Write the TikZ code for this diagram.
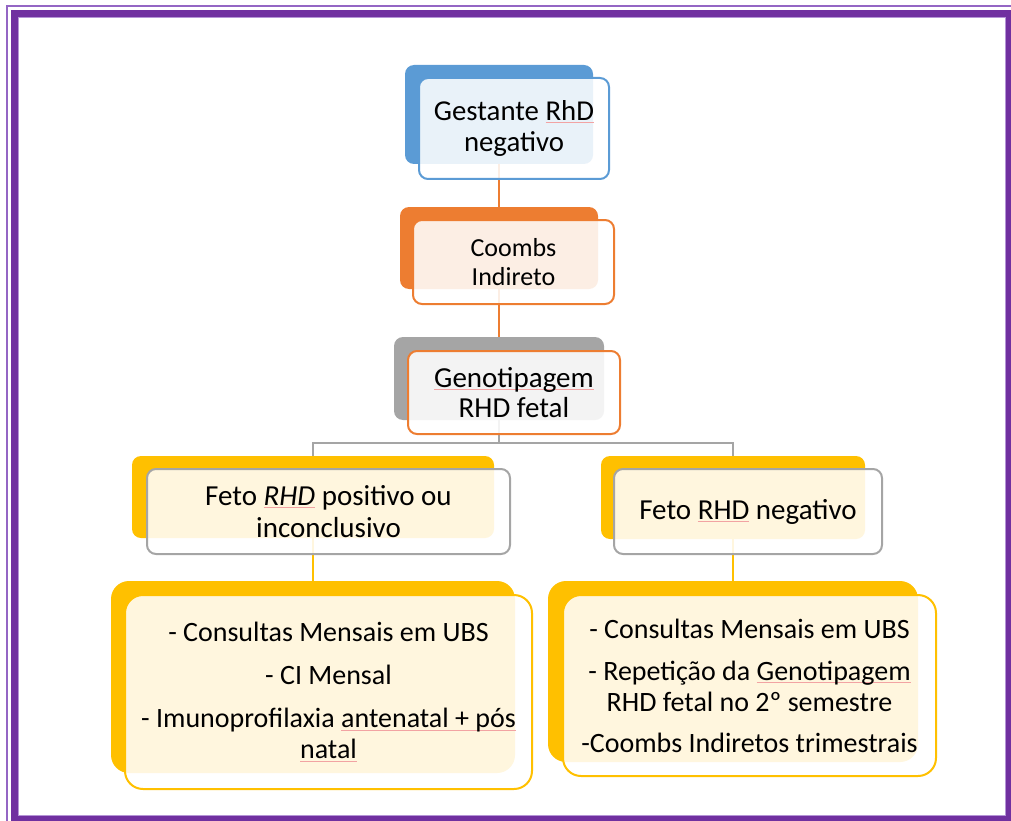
\documentclass[tikz,border=0pt]{standalone}
\usepackage{fontspec}
\setmainfont{Carlito}
\usetikzlibrary{backgrounds}

\definecolor{rhblue}{HTML}{5B9BD5}
\definecolor{rhorange}{HTML}{ED7D31}
\definecolor{rhgray}{HTML}{A5A5A5}
\definecolor{rhyellow}{HTML}{FFC000}
\definecolor{framedark}{HTML}{7030A0}
\definecolor{framelight}{HTML}{9466C4}
\definecolor{squig}{HTML}{F2A3A3}

% spell-check style underline: a thin pink rule under the word
\newcommand\spellmark[1]{\leavevmode\setbox0\hbox{#1}%
  \rlap{\textcolor{squig}{\rule[-2.5pt]{\wd0}{0.8pt}}}\box0\relax}

\tikzset{
  backbox/.style={draw=none, inner sep=0pt, outer sep=0pt, rounded corners=#1},
  frontbox/.style={draw=#1, line width=2pt, fill=white, fill opacity=0.87,
    text opacity=1, text=black, inner sep=0pt, outer sep=0pt, align=center},
  link/.style={draw=#1, line width=2pt},
  framethick/.style={draw=framedark, line width=7pt},
  framethin/.style={draw=framelight, line width=1.6pt},
}

\begin{document}
\begin{tikzpicture}[x=1pt, y=-1pt]
\useasboundingbox (0,0) rectangle (1011,821);
\clip (0,0) rectangle (1011,821);

% page frame
\draw[framethin] (7,6) rectangle (1040,850);
\draw[framethick] (14.5,13.5) rectangle (1009.5,819.5);
\draw[draw=framelight!70!white, line width=0.8pt] (18.4,17.4) rectangle (1005.6,815.6);

% coloured backing cards
\node[backbox=9pt, fill=rhblue, minimum width=188pt, minimum height=99pt] (b1) at (499,114.5) {};
\node[backbox=9pt, fill=rhorange, minimum width=198pt, minimum height=82pt] (b2) at (499,248) {};
\node[backbox=9pt, fill=rhgray, minimum width=210pt, minimum height=83pt] (b3) at (499,378.5) {};
\node[backbox=9pt, fill=rhyellow, minimum width=362pt, minimum height=82pt] (b4) at (313,497) {};
\node[backbox=9pt, fill=rhyellow, minimum width=264pt, minimum height=83pt] (b5) at (733,497.5) {};
\node[backbox=18pt, fill=rhyellow, minimum width=404pt, minimum height=192pt] (b6) at (313,677) {};
\node[backbox=18pt, fill=rhyellow, minimum width=370pt, minimum height=181pt] (b7) at (733,671.5) {};

% text cards
\node[frontbox=rhblue, rounded corners=9pt, minimum width=190pt, minimum height=101pt,
  font=\fontsize{28.8}{31}\selectfont] (f1) at (514,128.5)
  {Gestante \spellmark{RhD}\\negativo};
\node[frontbox=rhorange, rounded corners=9pt, minimum width=201pt, minimum height=84pt,
  font=\fontsize{26}{29}\selectfont] (f2) at (513.5,262)
  {Coombs\\Indireto};
\node[frontbox=rhorange, rounded corners=9pt, minimum width=212pt, minimum height=83pt,
  font=\fontsize{29}{30}\selectfont] (f3) at (514,392.5)
  {\spellmark{Genotipagem}\\RHD fetal};
\node[frontbox=rhgray, rounded corners=9pt, minimum width=363pt, minimum height=85pt,
  font=\fontsize{29}{32}\selectfont] (f4) at (328.5,511.5)
  {Feto \spellmark{\textit{RHD}} positivo ou\\inconclusivo};
\node[frontbox=rhgray, rounded corners=9pt, minimum width=268pt, minimum height=85pt,
  font=\fontsize{29}{32}\selectfont] (f5) at (748,511.5)
  {Feto \spellmark{RHD} negativo};
\node[frontbox=rhyellow, rounded corners=18pt, minimum width=407pt, minimum height=194pt,
  font=\fontsize{28}{31}\selectfont] (f6) at (328.5,692)
  {- Consultas Mensais em UBS\\[12pt]
   - CI Mensal\\[12pt]
   - Imunoprofilaxia \spellmark{antenatal + pós}\\
   \spellmark{natal}};
\node[frontbox=rhyellow, rounded corners=18pt, minimum width=373pt, minimum height=181pt,
  font=\fontsize{28}{31}\selectfont] (f7) at (749.5,685.5)
  {- Consultas Mensais em UBS\\[11pt]
   - Repetição da \spellmark{Genotipagem}\\
   RHD fetal no 2º semestre\\[10pt]
   -Coombs Indiretos trimestrais};

% connectors, behind the cards
\begin{scope}[on background layer]
  \coordinate (j3) at (499,443);
  \draw[link=rhorange] (b1.south) -- (b2.north);
  \draw[link=rhorange] (b2.south) -- (b3.north);
  \draw[link=rhgray] (b3.south) -- (j3) -| (b4.north);
  \draw[link=rhgray] (j3) -| (b5.north);
  \draw[link=rhyellow] (b4.south) -- (b6.north);
  \draw[link=rhyellow] (b5.south) -- (b7.north);
\end{scope}
\end{tikzpicture}
\end{document}
